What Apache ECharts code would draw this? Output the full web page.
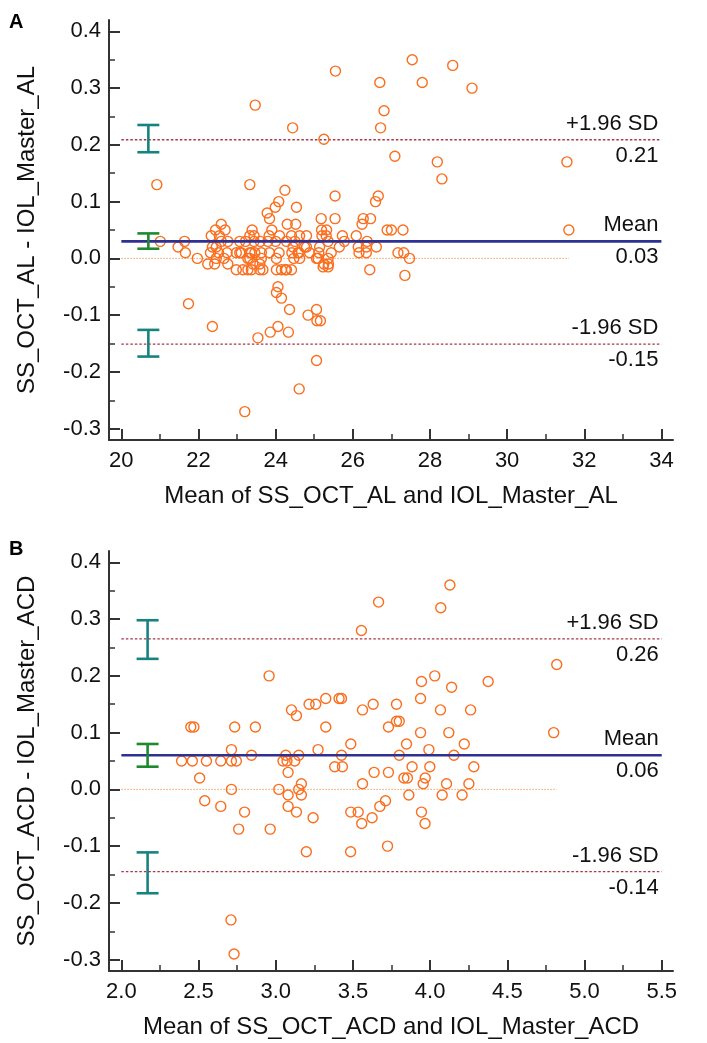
<!DOCTYPE html>
<html><head><meta charset="utf-8">
<script src="https://cdn.jsdelivr.net/npm/echarts@6/dist/echarts.min.js"></script>
<style>html,body{margin:0;padding:0;background:#fff}#c{width:707px;height:1043px}</style>
</head><body><div id="c"></div>
<script>
// ---------- DATA ----------
const pointsA = [
[25.55,0.33],[26.70,0.31],[27.54,0.35],[27.80,0.31],[28.59,0.34],[29.09,0.30],[26.81,0.26],[23.47,0.27],[24.44,0.23],[26.72,0.23],[25.25,0.21],[27.09,0.18],[28.19,0.17],[28.31,0.14],[31.55,0.17],[31.60,0.05],
[20.92,0.13],[23.33,0.13],[24.24,0.12],[24.08,0.10],[23.99,0.09],[23.78,0.08],[23.84,0.07],[24.54,0.09],[25.54,0.11],[25.18,0.07],[25.54,0.07],[24.30,0.06],[24.52,0.06],[26.66,0.11],[26.59,0.10],[26.27,0.07],[26.46,0.07],[26.24,0.06],[26.89,0.05],[27.00,0.05],[27.30,0.05],
[22.59,0.06],[22.44,0.05],[22.69,0.05],[23.39,0.05],[23.90,0.05],[25.19,0.05],[25.32,0.05],
[22.33,0.04],[22.54,0.04],[23.33,0.04],[23.44,0.04],[23.83,0.04],[24.10,0.04],[24.41,0.04],[24.62,0.04],[24.80,0.04],[25.20,0.04],[25.31,0.04],[25.73,0.04],[26.09,0.04],
[21.01,0.03],[21.64,0.03],[22.59,0.03],[22.76,0.03],[23.07,0.03],[23.22,0.03],[23.44,0.03],[23.60,0.03],[23.80,0.03],[24.00,0.03],[24.28,0.03],[24.50,0.03],[25.36,0.03],[25.78,0.03],[26.37,0.03],
[21.47,0.02],[22.36,0.02],[22.46,0.02],[24.45,0.02],[24.75,0.02],[24.80,0.02],[25.14,0.02],[25.65,0.02],[26.14,0.02],[26.35,0.02],[26.61,0.02],
[21.66,0.01],[22.31,0.01],[22.52,0.01],[22.74,0.01],[22.98,0.01],[23.07,0.01],[23.11,0.01],[23.33,0.01],[23.37,0.01],[23.46,0.01],[23.63,0.01],[23.84,0.01],[24.09,0.01],[24.42,0.01],[24.58,0.01],[24.61,0.01],[24.88,0.01],[25.12,0.01],[25.44,0.01],[26.16,0.01],[26.35,0.01],[27.17,0.01],[27.32,0.01],
[21.97,0.00],[22.46,0.00],[22.66,0.00],[23.28,0.00],[23.33,0.00],[23.63,0.00],[24.02,0.00],[24.47,0.00],[24.62,0.00],[25.06,0.00],[25.10,0.00],[25.36,0.00],[27.47,0.00],
[22.24,-0.01],[22.42,-0.01],[22.76,-0.01],[23.41,-0.01],[23.59,-0.01],[25.25,-0.01],[25.37,-0.01],
[22.98,-0.02],[23.15,-0.02],[23.28,-0.02],[23.37,-0.02],[23.59,-0.02],[23.67,-0.02],[24.02,-0.02],[24.15,-0.02],[24.25,-0.02],[24.28,-0.02],[24.41,-0.02],[26.44,-0.02],[25.23,-0.015],[25.36,-0.015],
[27.35,-0.03],
[24.06,-0.05],[24.02,-0.06],[24.15,-0.07],[24.36,-0.09],[24.84,-0.10],[25.06,-0.09],[25.07,-0.11],[25.16,-0.11],[21.74,-0.08],[22.36,-0.12],[23.54,-0.14],[23.86,-0.13],[24.06,-0.12],[24.33,-0.13],[25.06,-0.18],[24.61,-0.23],[23.20,-0.27]
];
const pointsB = [
[2.957,0.20],[3.944,0.19],[4.03,0.20],[4.139,0.18],[4.376,0.19],[3.324,0.16],[3.41,0.16],[3.426,0.16],[3.216,0.15],[3.259,0.15],[3.631,0.15],[3.782,0.15],[3.938,0.16],[3.102,0.14],[3.134,0.13],[3.562,0.14],[4.067,0.14],[4.262,0.14],[3.782,0.12],[3.80,0.12],
[2.734,0.11],[2.868,0.11],[3.324,0.11],[3.73,0.11],[3.938,0.10],[4.121,0.10],[3.486,0.08],[3.847,0.08],[4.221,0.08],[2.713,0.07],[3.274,0.07],[3.992,0.07],
[2.843,0.06],[3.065,0.06],[3.149,0.06],[3.426,0.06],[3.80,0.06],[4.154,0.06],[2.551,0.05],[2.644,0.05],[2.713,0.05],[2.745,0.05],[3.047,0.05],[3.073,0.05],[3.123,0.05],
[3.08,0.03],[3.382,0.04],[3.432,0.04],[3.637,0.03],[3.73,0.03],[3.883,0.04],[3.998,0.04],[4.283,0.04],[3.83,0.02],[3.853,0.02],[3.968,0.02],[3.955,0.01],[4.106,0.01],[4.251,0.01],[3.562,0.01],[3.166,0.01],[2.507,0.02],
[3.02,0.00],[2.713,0.00],[3.149,0.00],[2.54,-0.02],[3.08,-0.01],[3.166,-0.01],[3.862,-0.01],[4.078,-0.01],[4.207,-0.01],[2.644,-0.03],[3.08,-0.03],[3.711,-0.02],[3.674,-0.03],
[2.798,-0.04],[3.134,-0.04],[3.486,-0.04],[3.534,-0.04],[3.944,-0.04],[3.242,-0.05],[3.624,-0.05],[2.76,-0.07],[2.964,-0.07],[3.198,-0.11],[3.557,-0.06],[3.485,-0.11],[3.724,-0.10],[3.967,-0.06],
[2.71,-0.23],[2.73,-0.29],[3.666,0.33],[4.128,0.36],[4.069,0.32],[3.555,0.28],[4.82,0.22],[4.80,0.10],
[2.39,0.05],[2.45,0.11],[2.47,0.11],[2.46,0.05]
];
const xTicksA = [20,22,24,26,28,30,32,34];
const xMinorA = [21,23,25,27,29,31,33];
const xTicksB = [2.0,2.5,3.0,3.5,4.0,4.5,5.0,5.5];
const xMinorB = [2.25,2.75,3.25,3.75,4.25,4.75,5.25];
const yTicks = [-0.3,-0.2,-0.1,0.0,0.1,0.2,0.3,0.4];
const yMinor = [-0.25,-0.15,-0.05,0.05,0.15,0.25,0.35];
const xRangeA = [19.68, 34.3];
const xRangeB = [1.92, 5.573];
const yRange = [-0.32, 0.42];
const limitNames = ['+1.96 SD','Mean','-1.96 SD'];
const limitsA = [0.209, 0.03, -0.151];
const limitsB = [0.265, 0.06, -0.145];
const limitTextA = ['0.21','0.03','-0.15'];
const limitTextB = ['0.26','0.06','-0.14'];
const lineSpanA = [20, 34];
const lineSpanB = [2.0, 5.5];
const zeroSpanA = [20, 31.6];
const zeroSpanB = [2.0, 4.82];
const ciA = [[20.7,0.187,0.235],[20.7,0.017,0.044],[20.7,-0.173,-0.126]];
const ciB = [[2.17,0.230,0.298],[2.17,0.040,0.080],[2.17,-0.183,-0.111]];
const titlesA = ['Mean of SS_OCT_AL and IOL_Master_AL','SS_OCT_AL - IOL_Master_AL','A'];
const titlesB = ['Mean of SS_OCT_ACD and IOL_Master_ACD','SS_OCT_ACD - IOL_Master_ACD','B'];

// ---------- STYLE / BUILD ----------
const FONT = "'Liberation Sans', Arial, sans-serif";
const AX = '#333333';
const chart = echarts.init(document.getElementById('c'), null, {renderer:'canvas'});

function xAxes(gi, range, ticks, minor, name, dec){
  return [{
    gridIndex: gi, type:'value', min: range[0], max: range[1], position:'bottom',
    name: name, nameLocation:'middle', nameGap: 44,
    nameTextStyle:{fontFamily:FONT, fontSize:24, color:'#111'},
    axisLine:{show:true, onZero:false, lineStyle:{color:AX, width:2}},
    axisTick:{show:true, inside:true, length:11, customValues: ticks, lineStyle:{color:AX, width:2}},
    axisLabel:{show:true, customValues: ticks, margin:10, fontFamily:FONT, fontSize:22, color:'#111',
      formatter: v => Number(v).toFixed(dec)},
    splitLine:{show:false}
  },{
    gridIndex: gi, type:'value', min: range[0], max: range[1], position:'bottom',
    axisLine:{show:false, onZero:false},
    axisTick:{show:true, inside:true, length:6, customValues: minor, lineStyle:{color:AX, width:1.5}},
    axisLabel:{show:false}, splitLine:{show:false}
  }];
}
function yAxes(gi, name){
  return [{
    gridIndex: gi, type:'value', min: yRange[0], max: yRange[1], position:'left',
    name: name, nameLocation:'middle', nameGap: 70,
    nameTextStyle:{fontFamily:FONT, fontSize:24, color:'#111'},
    axisLine:{show:true, onZero:false, lineStyle:{color:AX, width:2}},
    axisTick:{show:true, inside:true, length:11, customValues: yTicks, lineStyle:{color:AX, width:2}},
    axisLabel:{show:true, customValues: yTicks, margin:8, fontFamily:FONT, fontSize:22, color:'#111',
      formatter: v => Number(v).toFixed(1)},
    splitLine:{show:false}
  },{
    gridIndex: gi, type:'value', min: yRange[0], max: yRange[1], position:'left',
    axisLine:{show:false, onZero:false},
    axisTick:{show:true, inside:true, length:6, customValues: yMinor, lineStyle:{color:AX, width:1.5}},
    axisLabel:{show:false}, splitLine:{show:false}
  }];
}

function panelSeries(xi, yi, pts, limits, texts, span, zspan, ci){
  const s = [];
  s.push({type:'line', xAxisIndex:xi, yAxisIndex:yi, symbol:'none', silent:true,
    data:[[zspan[0],0],[zspan[1],0]], lineStyle:{color:'#F4A062', width:1, type:[1.5,1.5]}, z:2});
  s.push({type:'line', xAxisIndex:xi, yAxisIndex:yi, symbol:'none', silent:true,
    data:[[span[0],limits[0]],[span[1],limits[0]]], lineStyle:{color:'#A8364A', width:1.3, type:[2.5,2]}, z:3});
  s.push({type:'line', xAxisIndex:xi, yAxisIndex:yi, symbol:'none', silent:true,
    data:[[span[0],limits[2]],[span[1],limits[2]]], lineStyle:{color:'#A8364A', width:1.3, type:[2.5,2]}, z:3});
  s.push({type:'scatter', xAxisIndex:xi, yAxisIndex:yi, data:pts, symbol:'circle', symbolSize:10,
    itemStyle:{color:'rgba(255,255,255,0)', borderColor:'#FA6E1E', borderWidth:1.4, opacity:1}, z:4});
  s.push({type:'line', xAxisIndex:xi, yAxisIndex:yi, symbol:'none', silent:true,
    data:[[span[0],limits[1]],[span[1],limits[1]]], lineStyle:{color:'#2E3192', width:2.6}, z:5});
  s.push({type:'custom', xAxisIndex:xi, yAxisIndex:yi, data:ci, z:6, clip:false,
    renderItem:(params, api)=>{
      const x=api.value(0), lo=api.value(1), hi=api.value(2);
      const a=api.coord([x,lo]), b=api.coord([x,hi]);
      const col = params.dataIndex===1 ? '#1E8A2E' : '#17837F';
      const hw=11, st={stroke:col, lineWidth:2.6};
      return {type:'group', children:[
        {type:'line', shape:{x1:a[0],y1:a[1],x2:b[0],y2:b[1]}, style:st},
        {type:'line', shape:{x1:a[0]-hw,y1:a[1],x2:a[0]+hw,y2:a[1]}, style:st},
        {type:'line', shape:{x1:b[0]-hw,y1:b[1],x2:b[0]+hw,y2:b[1]}, style:st}
      ]};
    }});
  s.push({type:'custom', xAxisIndex:xi, yAxisIndex:yi, clip:false, z:7,
    data: limits.map((v,i)=>[span[1], v, i]),
    renderItem:(params, api)=>{
      const i = api.value(2);
      const p = api.coord([api.value(0), api.value(1)]);
      const ts = {fontFamily:FONT, fontSize:22, fill:'#111', align:'right'};
      return {type:'group', children:[
        {type:'text', x:p[0]-3, y:p[1]-5, style:Object.assign({text:limitNames[i], verticalAlign:'bottom'}, ts)},
        {type:'text', x:p[0]-3, y:p[1]+5, style:Object.assign({text:texts[i], verticalAlign:'top'}, ts)}
      ]};
    }});
  return s;
}

const option = {
  backgroundColor:'#fff',
  animation:false,
  grid:[
    {left:109, top:20, width:564, height:420, containLabel:false},
    {left:109, top:551, width:564, height:420, containLabel:false}
  ],
  xAxis: [].concat(xAxes(0, xRangeA, xTicksA, xMinorA, titlesA[0], 0), xAxes(1, xRangeB, xTicksB, xMinorB, titlesB[0], 1)),
  yAxis: [].concat(yAxes(0, titlesA[1]), yAxes(1, titlesB[1])),
  graphic:[
    {type:'text', left:9, top:12, style:{text:titlesA[2], fontFamily:FONT, fontWeight:'bold', fontSize:20, fill:'#000'}},
    {type:'text', left:9, top:539, style:{text:titlesB[2], fontFamily:FONT, fontWeight:'bold', fontSize:20, fill:'#000'}}
  ],
  series: [].concat(
    panelSeries(0, 0, pointsA, limitsA, limitTextA, lineSpanA, zeroSpanA, ciA),
    panelSeries(2, 2, pointsB, limitsB, limitTextB, lineSpanB, zeroSpanB, ciB)
  )
};
chart.setOption(option);
</script></body></html>
